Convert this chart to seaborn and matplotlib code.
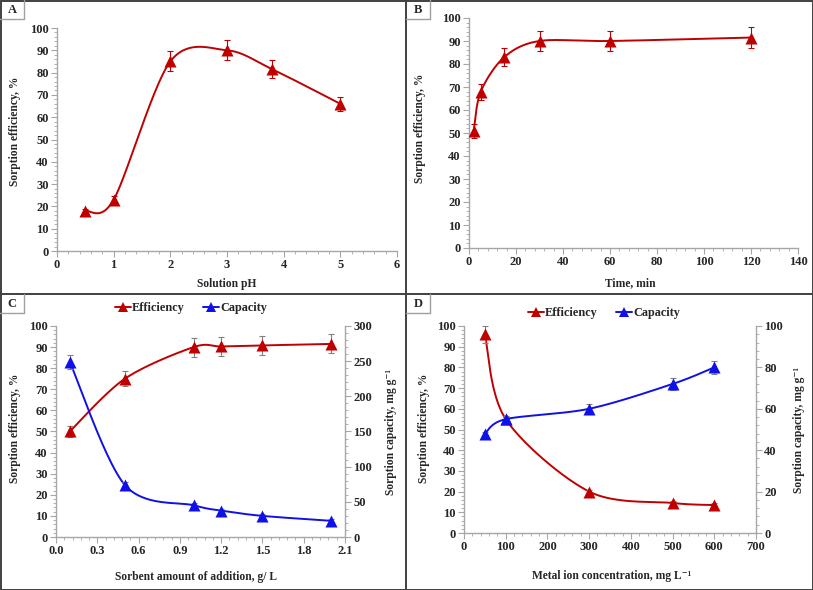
import numpy as np
import pandas as pd
import matplotlib
matplotlib.use("Agg")
import matplotlib.pyplot as plt
import seaborn as sns
from matplotlib.lines import Line2D
from matplotlib.ticker import MultipleLocator, FormatStrFormatter

sns.set_style("white")
plt.rcParams["font.family"] = ["Liberation Serif", "DejaVu Serif"]
plt.rcParams["font.weight"] = "bold"

# ---------------- data ----------------
ph = [0.5, 1, 2, 3, 3.8, 5]
ph_eff = [18, 23, 85, 90, 81.5, 66]
ph_err = [1, 1.5, 4.5, 4.5, 4, 3]

time_min = [2, 5, 15, 30, 60, 120]
time_eff = [51, 68, 83, 90, 90, 91.5]
time_err = [3, 3.5, 4, 4.5, 4.5, 4.5]

dose = [0.1, 0.5, 1.0, 1.2, 1.5, 2.0]
dose_eff = [50, 75, 90, 90.3, 90.8, 91.5]
dose_eff_err = [2.5, 3.5, 4.5, 4.5, 4.5, 4.5]
dose_cap = [249, 74, 45, 37.5, 30, 23]
dose_cap_err = [10, 4, 3, 2, 2, 2]

conc = [50, 100, 300, 500, 600]
conc_eff = [96, 55, 20, 14.5, 13.5]
conc_eff_err = [4, 1, 1, 1, 1]
conc_cap = [48, 55, 60, 72, 80]
conc_cap_err = [1, 1.5, 2.5, 3, 3]

RED = "#C00000"
BLUE = "#1010E8"
GRAY = "#808080"
SPINE = "#a6a6a6"
FS_TICK = 9
FS_LAB = 8.3

W, H = 813, 590
fig = plt.figure(figsize=(W / 100, H / 100), dpi=100)


def px_axes(l, r, t, b):
    return fig.add_axes([l / W, 1 - b / H, (r - l) / W, (b - t) / H])


def smooth(x, y, xr, yr, wpx, hpx, n=60):
    x = np.asarray(x, float)
    y = np.asarray(y, float)
    X = (x - xr[0]) / (xr[1] - xr[0]) * wpx
    Y = (y - yr[0]) / (yr[1] - yr[0]) * hpx
    P = np.c_[X, Y]
    out = []
    t = np.linspace(0, 1, n)[:, None]
    for i in range(len(P) - 1):
        p0 = P[i - 1] if i > 0 else P[i]
        p1 = P[i]
        p2 = P[i + 1]
        p3 = P[i + 2] if i + 2 < len(P) else P[i + 1]
        c1 = p1 + (p2 - p0) / 6.5
        c2 = p2 - (p3 - p1) / 6.5
        seg = ((1 - t) ** 3) * p1 + 3 * ((1 - t) ** 2) * t * c1 + 3 * (1 - t) * t ** 2 * c2 + t ** 3 * p2
        out.append(seg if i == 0 else seg[1:])
    S = np.vstack(out)
    xs = S[:, 0] / wpx * (xr[1] - xr[0]) + xr[0]
    ys = S[:, 1] / hpx * (yr[1] - yr[0]) + yr[0]
    return xs, ys


def style_axis(ax, xr, xmaj, yr, ymaj, xfmt=None):
    ax.set_xlim(*xr)
    ax.set_ylim(*yr)
    ax.xaxis.set_major_locator(MultipleLocator(xmaj))
    ax.xaxis.set_minor_locator(MultipleLocator(xmaj / 5))
    ax.yaxis.set_major_locator(MultipleLocator(ymaj))
    ax.yaxis.set_minor_locator(MultipleLocator(ymaj / 5))
    if xfmt:
        ax.xaxis.set_major_formatter(FormatStrFormatter(xfmt))
    for s in ["top", "right"]:
        ax.spines[s].set_visible(False)
    for s in ["left", "bottom"]:
        ax.spines[s].set_color(SPINE)
        ax.spines[s].set_linewidth(1.0)
    ax.tick_params(which="major", direction="out", length=4, width=0.8, color=SPINE,
                   labelsize=FS_TICK, pad=2, left=True, bottom=True)
    ax.tick_params(which="minor", direction="out", length=2.5, width=0.6, color=SPINE,
                   left=True, bottom=True)
    for lab in ax.get_xticklabels() + ax.get_yticklabels():
        lab.set_fontweight("bold")
    ax.set_xlabel("")
    ax.set_ylabel("")
    ax.grid(False)


def style_right(ax2, yr, ymaj):
    ax2.set_ylim(*yr)
    ax2.yaxis.set_major_locator(MultipleLocator(ymaj))
    ax2.yaxis.set_minor_locator(MultipleLocator(ymaj / 5))
    for s in ["top", "left", "bottom"]:
        ax2.spines[s].set_visible(False)
    ax2.spines["right"].set_color(SPINE)
    ax2.spines["right"].set_linewidth(1.0)
    ax2.tick_params(axis="y", which="major", direction="out", length=4, width=0.8, color=SPINE,
                    labelsize=FS_TICK, pad=2, right=True, left=False)
    ax2.tick_params(axis="y", which="minor", direction="out", length=2.5, width=0.6, color=SPINE,
                    right=True, left=False)
    for lab in ax2.get_yticklabels():
        lab.set_fontweight("bold")
    ax2.set_ylabel("")
    ax2.grid(False)


def series(ax, x, y, err, xr, yr, color, ecolor, wpx, hpx):
    xs, ys = smooth(x, y, xr, yr, wpx, hpx)
    sns.lineplot(x=xs, y=ys, ax=ax, color=color, lw=1.4, sort=False, estimator=None)
    ax.errorbar(x, y, yerr=err, fmt="none", ecolor=ecolor, elinewidth=0.8, capsize=2.0,
                capthick=0.8, zorder=3)
    sns.scatterplot(x=x, y=y, ax=ax, marker="^", s=75, color=color, edgecolor=color,
                    linewidth=0, zorder=4)


def fig_text(xp, yp, s, rot=0, size=FS_LAB):
    fig.text(xp / W, 1 - yp / H, s, rotation=rot, ha="center", va="center",
             fontsize=size, fontweight="bold")


# ---------------- Panel A ----------------
A = dict(l=57, r=397, t=28, b=251)
axA = px_axes(**A)
xrA, yrA = (0, 6), (0, 100)
series(axA, ph, ph_eff, ph_err, xrA, yrA, RED, RED, A["r"] - A["l"], A["b"] - A["t"])
style_axis(axA, xrA, 1, yrA, 10)
fig_text(15, 131, "Sorption efficiency, %", rot=90)
fig_text(227, 284, "Solution pH")

# ---------------- Panel B ----------------
B = dict(l=469, r=798, t=18, b=248)
axB = px_axes(**B)
xrB, yrB = (0, 140), (0, 100)
series(axB, time_min, time_eff, time_err, xrB, yrB, RED, RED, B["r"] - B["l"], B["b"] - B["t"])
style_axis(axB, xrB, 20, yrB, 10)
fig_text(420, 128, "Sorption efficiency, %", rot=90)
fig_text(630, 283, "Time, min")

# ---------------- Panel C ----------------
C = dict(l=56, r=345, t=326, b=537)
axC = px_axes(**C)
xrC, yrC, yrC2 = (0, 2.1), (0, 100), (0, 300)
series(axC, dose, dose_eff, dose_eff_err, xrC, yrC, RED, GRAY, C["r"] - C["l"], C["b"] - C["t"])
style_axis(axC, xrC, 0.3, yrC, 10, xfmt="%.1f")
axC2 = axC.twinx()
series(axC2, dose, dose_cap, dose_cap_err, xrC, yrC2, BLUE, GRAY, C["r"] - C["l"], C["b"] - C["t"])
axC2.set_xlim(*xrC)
style_right(axC2, yrC2, 50)
fig_text(15, 428, "Sorption efficiency, %", rot=90)
fig_text(391, 432, "Sorption capacity, mg g\u207b\u00b9", rot=90)
fig_text(196, 577, "Sorbent amount of addition, g/ L")

# ---------------- Panel D ----------------
D = dict(l=464, r=756, t=326, b=533)
axD = px_axes(**D)
xrD, yrD, yrD2 = (0, 700), (0, 100), (0, 100)
series(axD, conc, conc_eff, conc_eff_err, xrD, yrD, RED, GRAY, D["r"] - D["l"], D["b"] - D["t"])
style_axis(axD, xrD, 100, yrD, 10)
axD2 = axD.twinx()
series(axD2, conc, conc_cap, conc_cap_err, xrD, yrD2, BLUE, GRAY, D["r"] - D["l"], D["b"] - D["t"])
axD2.set_xlim(*xrD)
style_right(axD2, yrD2, 20)
fig_text(424, 428, "Sorption efficiency, %", rot=90)
fig_text(799, 430, "Sorption capacity, mg g\u207b\u00b9", rot=90)
fig_text(612, 576, "Metal ion concentration, mg L\u207b\u00b9")

# ---------------- legends ----------------
handles = [
    Line2D([], [], color=RED, lw=1.4, marker="^", markersize=6.5, markeredgewidth=0),
    Line2D([], [], color=BLUE, lw=1.4, marker="^", markersize=6.5, markeredgewidth=0),
]
for (xc, yc) in [(191 / W, 1 - 308 / H), (604 / W, 1 - 313 / H)]:
    fig.legend(handles, ["Efficiency", "Capacity"], loc="center", bbox_to_anchor=(xc, yc),
               ncol=2, frameon=False, handlelength=1.3, handletextpad=0.1,
               columnspacing=1.5, prop={"weight": "bold", "size": 8.8})

# ---------------- panel frames ----------------
FR = "#404040"
def fline(x0, y0, x1, y1, lw=1.4, c=FR):
    fig.add_artist(Line2D([x0 / W, x1 / W], [1 - y0 / H, 1 - y1 / H], color=c, lw=lw,
                          transform=fig.transFigure))

fline(0.5, 0.5, W - 0.5, 0.5)
fline(0.5, H - 0.5, W - 0.5, H - 0.5)
fline(0.5, 0.5, 0.5, H - 0.5)
fline(W - 0.5, 0.5, W - 0.5, H - 0.5)
fline(406, 0, 406, H)
fline(0, 294, W, 294)

BX = "#a0a0a0"
for (x0, y0, lab) in [(0, 0, "A"), (406, 0, "B"), (0, 294, "C"), (406, 294, "D")]:
    fline(x0 + 24, y0, x0 + 24, y0 + 19, lw=1.0, c=BX)
    fline(x0, y0 + 19, x0 + 24, y0 + 19, lw=1.0, c=BX)
    fig_text(x0 + 12, y0 + 10, lab, size=9)

fig.savefig("out.png", dpi=100)
